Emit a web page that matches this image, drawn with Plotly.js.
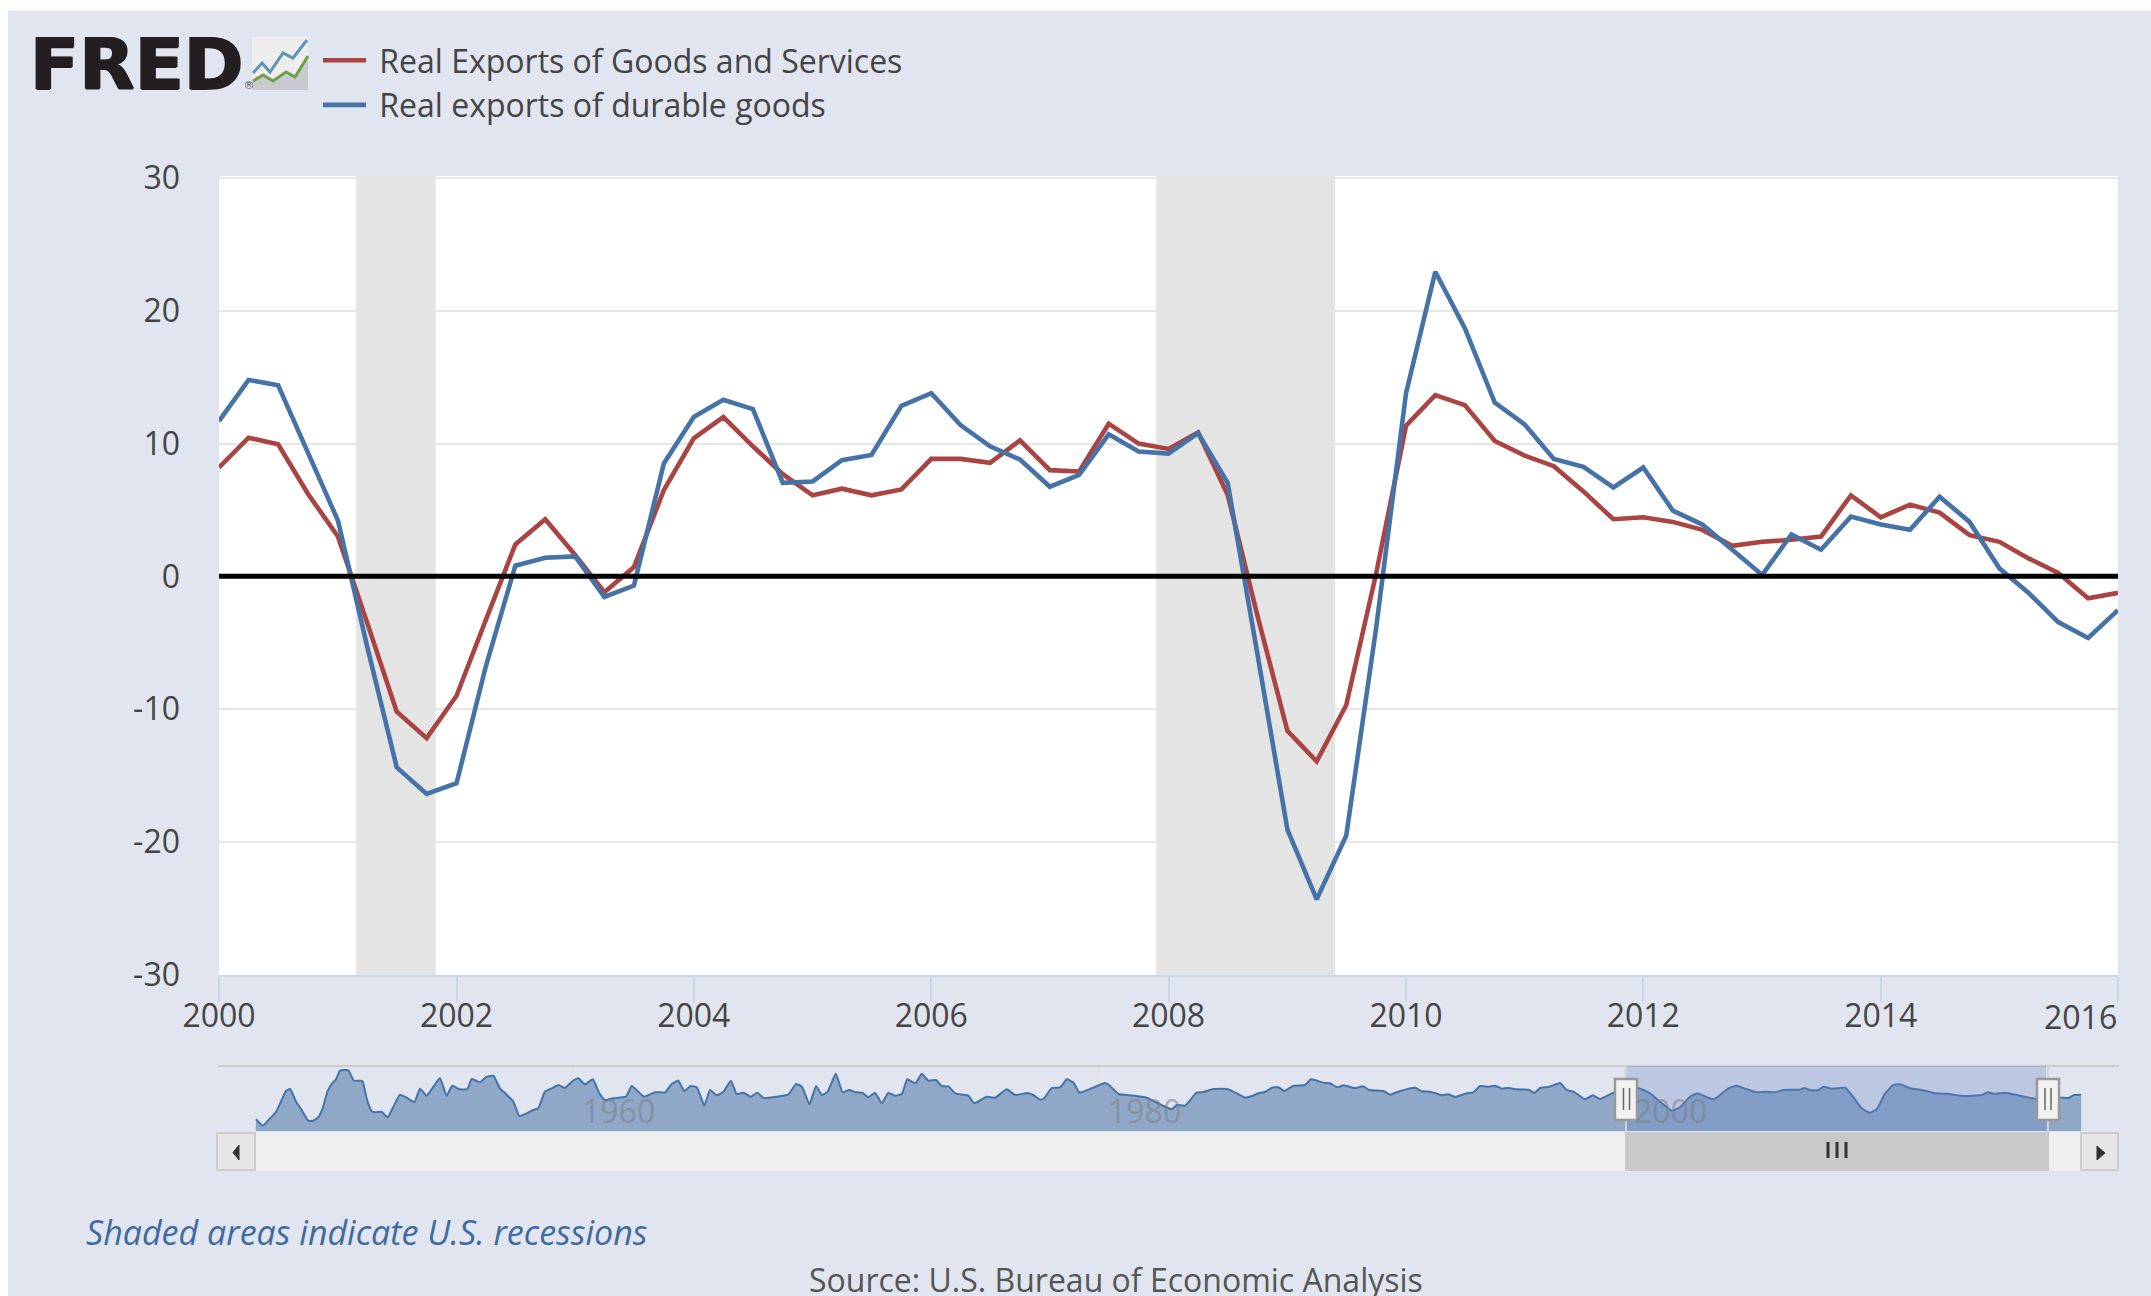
<!DOCTYPE html>
<html>
<head>
<meta charset="utf-8">
<script src="https://cdn.plot.ly/plotly-3.0.1.min.js"></script>
<style>
html,body{margin:0;padding:0;background:#fff;width:2151px;height:1296px;overflow:hidden}
#bg{position:absolute;left:8px;top:11px;right:0;bottom:0;background:#e1e5f0}
#chart{position:absolute;left:0;top:0;width:2151px;height:1296px}
</style>
</head>
<body>
<div id="bg"></div>
<div id="chart"></div>
<script>
const quarters = ["2000-01-01","2000-04-01","2000-07-01","2000-10-01","2001-01-01","2001-04-01","2001-07-01","2001-10-01","2002-01-01","2002-04-01","2002-07-01","2002-10-01","2003-01-01","2003-04-01","2003-07-01","2003-10-01","2004-01-01","2004-04-01","2004-07-01","2004-10-01","2005-01-01","2005-04-01","2005-07-01","2005-10-01","2006-01-01","2006-04-01","2006-07-01","2006-10-01","2007-01-01","2007-04-01","2007-07-01","2007-10-01","2008-01-01","2008-04-01","2008-07-01","2008-10-01","2009-01-01","2009-04-01","2009-07-01","2009-10-01","2010-01-01","2010-04-01","2010-07-01","2010-10-01","2011-01-01","2011-04-01","2011-07-01","2011-10-01","2012-01-01","2012-04-01","2012-07-01","2012-10-01","2013-01-01","2013-04-01","2013-07-01","2013-10-01","2014-01-01","2014-04-01","2014-07-01","2014-10-01","2015-01-01","2015-04-01","2015-07-01","2015-10-01","2016-01-01"];
const realExports = [8.2,10.45,9.95,6.2,3.0,-3.5,-10.2,-12.2,-9.0,-3.3,2.4,4.3,1.6,-1.2,0.7,6.5,10.4,12.0,9.8,7.7,6.1,6.6,6.1,6.55,8.85,8.85,8.55,10.25,8.0,7.9,11.5,10.0,9.6,10.85,6.15,-3.0,-11.65,-13.95,-9.7,0.2,11.35,13.65,12.9,10.2,9.1,8.3,6.4,4.3,4.45,4.1,3.5,2.3,2.6,2.75,3.0,6.1,4.45,5.4,4.8,3.1,2.6,1.35,0.25,-1.65,-1.25];
const durableExports = [11.7,14.8,14.4,9.3,4.2,-5.3,-14.4,-16.4,-15.6,-6.8,0.8,1.4,1.5,-1.55,-0.7,8.5,12.0,13.3,12.6,7.05,7.15,8.75,9.15,12.85,13.8,11.4,9.8,8.8,6.75,7.65,10.7,9.4,9.25,10.8,7.05,-5.9,-19.1,-24.35,-19.55,-3.9,13.8,22.95,18.7,13.1,11.45,8.85,8.25,6.7,8.2,4.95,3.9,2.0,0.1,3.15,2.0,4.5,3.9,3.5,6.0,4.1,0.6,-1.25,-3.45,-4.65,-2.55];
const recessions = [["2001-02-26","2001-10-29"],["2007-11-24","2009-05-28"]];
const yRange = [-30.05,30.17];
const yTicks = [-30,-20,-10,0,10,20,30];
const yTickLabels = ["-30","-20","-10","0","10","20","30"];
const xTicks = ["2000-01-01","2002-01-01","2004-01-01","2006-01-01","2008-01-01","2010-01-01","2012-01-01","2014-01-01","2016-01-01"];
const xTickLabels = ["2000","2002","2004","2006","2008","2010","2012","2014",""];
const navYears = [1947.98,1948.24,1948.49,1948.75,1948.96,1949.13,1949.28,1949.51,1949.72,1949.97,1950.16,1950.35,1950.52,1950.70,1950.86,1951.03,1951.18,1951.50,1951.71,1952.03,1952.19,1952.38,1952.51,1952.76,1952.99,1953.21,1953.46,1953.71,1954.01,1954.22,1954.47,1954.73,1954.98,1955.23,1955.45,1955.72,1956.02,1956.19,1956.50,1956.76,1957.01,1957.26,1957.49,1957.77,1958.00,1958.28,1958.53,1958.72,1958.97,1959.23,1959.48,1959.73,1959.99,1960.24,1960.49,1960.79,1961.04,1961.25,1961.57,1962.05,1962.27,1962.52,1962.75,1963.16,1963.54,1963.79,1964.04,1964.27,1964.51,1964.74,1964.87,1965.03,1965.25,1965.50,1965.76,1966.04,1966.26,1966.52,1966.80,1967.05,1967.28,1967.79,1968.23,1968.52,1968.74,1969.03,1969.28,1969.50,1969.72,1970.03,1970.29,1970.55,1970.79,1971.04,1971.27,1971.52,1971.78,1972.03,1972.28,1972.54,1972.75,1973.05,1973.30,1973.55,1973.84,1974.06,1974.31,1974.57,1975.07,1975.29,1975.77,1976.09,1976.53,1976.85,1977.32,1977.54,1977.80,1977.95,1978.24,1978.56,1978.81,1979.07,1979.29,1979.76,1980.27,1980.46,1980.78,1981.09,1981.85,1982.23,1982.80,1982.99,1983.31,1983.75,1984.01,1984.39,1984.90,1985.28,1985.59,1985.85,1986.10,1986.35,1986.61,1986.86,1987.08,1987.43,1987.87,1988.09,1988.57,1988.82,1989.10,1989.33,1989.78,1990.07,1990.32,1990.85,1991.11,1991.49,1992.06,1992.31,1992.63,1993.07,1993.32,1993.58,1994.02,1994.27,1994.53,1994.85,1995.10,1995.35,1995.61,1995.92,1996.37,1996.59,1996.81,1997.13,1997.57,1997.82,1998.08,1998.52,1998.81,1999.09,1999.60,2000.55,2000.99,2001.44,2001.82,2002.13,2002.51,2002.80,2003.15,2003.40,2003.65,2003.97,2004.29,2004.67,2005.05,2005.36,2005.74,2006.06,2006.69,2006.85,2007.10,2007.39,2007.58,2007.90,2008.41,2008.66,2009.04,2009.33,2009.61,2009.93,2010.24,2010.50,2010.88,2011.38,2011.83,2012.27,2012.90,2013.60,2013.83,2014.05,2014.49,2014.93,2015.69,2016.58,2016.90,2017.11,2017.38];
const navValues = [-21.3,-27.7,-21.3,-13.7,-2,7.3,9,-3.7,-12,-22.7,-22.7,-19.3,-10.3,6.3,14,18.7,27.3,27.7,17.3,17,-0.3,-13,-14.3,-13.7,-19.3,-8.7,3.3,0.3,-4,9.3,2.3,11.3,20,2.3,12.3,8.7,9,19,15.7,21.3,22.3,9.7,4,-3.7,-18,-15.3,-12,-10.3,6.3,9.7,13,10,16.3,19.7,13.7,18.7,4.7,-2,-0.3,1.3,12,6.3,1.3,5.7,5.7,14,17.3,7,12,10.7,3,-7.7,8,2.7,6.3,17.3,4,5.3,1.3,5.3,0,1.3,3.7,14,11.3,-6.3,12,3,6.3,24.3,5.7,8,5.7,5.3,0.7,5.3,-5.3,5.3,2.3,4,18.7,14.7,24.3,17.3,18,12,11.7,4.7,2.3,-5.3,1.3,0.3,8.7,3,5,3,-1.7,-0.3,10,10.7,18.7,15.3,5.3,9.7,15,12,4,3,0.3,-4.7,-11.3,-7,-7.7,5.3,6,9,9,4.7,0.3,2,4.7,6,10.3,10.7,7,12.3,13,18.7,15.3,14.7,10.7,12.7,9.7,11.7,8,7,3.3,7,10.3,6.7,6.3,2.7,3.7,1,4.7,5.7,12,11.3,12.3,9.3,10,8.7,8.3,5,10,11,15,8,6.3,-1.3,2.7,-1,5.3,9.7,4.7,-5.3,-12.7,-9.3,1.3,4.7,0.7,-1.3,3,9.7,12.3,8.7,5.7,6.3,5.7,8,8.3,10,7.7,8,11.3,9.3,10.3,3,-10.3,-14.7,-11.3,4.7,13,13.7,9.7,7.7,4.7,4.3,2,3,5.7,4.3,5.3,3,-1,0.3,0,3,3.3];
const navBaseline = [-33,-33];
const navRange = [-33,32];
const navYearTicks = [1960,1980,2000];
const navSelection = [2000.08,2016.05];

const W = 2151, H = 1296;
const fx = p => p / W, fy = p => 1 - p / H;
const FONT = '"Open Sans", sans-serif';
const CHROME = '#444';

function box(x0, y0, x1, y1, fill, lineColor, lineWidth) {
  return {type:'rect', xref:'paper', yref:'paper', x0:fx(x0), x1:fx(x1), y0:fy(y1), y1:fy(y0),
    fillcolor:fill, line:{color:lineColor||fill, width:lineWidth===undefined?0:lineWidth}, layer:'above'};
}
function poly(points, fill, lineColor, lineWidth, close) {
  const d = points.map((p,i)=>(i?'L':'M')+fx(p[0])+','+fy(p[1])).join(' ') + (close?' Z':'');
  return {type:'path', xref:'paper', yref:'paper', path:d, fillcolor:fill||'rgba(0,0,0,0)',
    line:{color:lineColor||'rgba(0,0,0,0)', width:lineWidth||0}, layer:'above'};
}

const shapes = [];
shapes.push({type:'rect', xref:'paper', yref:'paper', x0:fx(219), x1:fx(2118), y0:fy(975), y1:fy(176), fillcolor:'#fff', line:{width:0}, layer:'below'});
recessions.forEach(r => shapes.push({type:'rect', xref:'x', yref:'y', x0:r[0], x1:r[1], y0:yRange[0], y1:yRange[1],
  fillcolor:'#e4e4e4', line:{width:0}, layer:'between'}));
shapes.push({type:'line', xref:'paper', yref:'y', x0:fx(219), x1:fx(2118), y0:0, y1:0, line:{color:'#000', width:5}, layer:'above'});

// navigator chrome
shapes.push(box(218,1065,2119,1067,'#cbcbcb'));
shapes.push({type:'rect', xref:'x2', yref:'y2', x0:navSelection[0], x1:navSelection[1], y0:navRange[0], y1:navRange[1],
  fillcolor:'rgba(102,133,194,0.3)', line:{width:0}, layer:'above'});
shapes.push(box(1625,1066,1627,1132,'#cfd3dc'));
shapes.push(box(2047,1066,2049,1132,'#cfd3dc'));
// scrollbar
shapes.push(box(256,1132,2080,1171,'#efefef'));
shapes.push(box(1625,1132,2049,1171,'#c8c8c8'));
shapes.push(box(217,1133,255,1170,'#e6e6e6','#cccccc',2));
shapes.push(box(2081,1133,2118,1170,'#e6e6e6','#cccccc',2));
shapes.push(poly([[239,1145],[233,1152.5],[239,1160]],'#333','#333',1,true));
shapes.push(poly([[2097,1146],[2105,1153],[2097,1160]],'#333','#333',1,true));
[1828,1837,1846].forEach(x => shapes.push(poly([[x,1142],[x,1158]],null,'#333',3)));
// handles
[[1615,1637,1623.5,1629.5],[2037,2059,2045,2051]].forEach(h => {
  shapes.push(box(h[0],1079,h[1],1120,'#f2f2f2','#999999',2.5));
  shapes.push(poly([[h[2],1088],[h[2],1110]],null,'#666',1.5));
  shapes.push(poly([[h[3],1088],[h[3],1110]],null,'#666',1.5));
});
// logo icon
shapes.push({type:'rect', xref:'paper', yref:'paper', x0:fx(252), x1:fx(308), y0:fy(90), y1:fy(37),
  fillcolor:'#eeeeef', line:{width:0}, layer:'above'});
shapes.push(poly([[252,81],[263,75],[273,81],[286,72],[295,77],[308,55],[308,90],[252,90]],'#c9cad0',null,0,true));
shapes.push(poly([[253,73],[262,63],[270,72],[283,53],[293,58],[307,40]],null,'#5c95b8',3));
shapes.push(poly([[253,81],[263,75],[273,81],[286,72],[295,77],[308,56]],null,'#6da044',3));

const annFont = (size, color, extra) => Object.assign({family:FONT, size:size, color:color}, extra||{});
const note = (x, y, text, font, anchor) => ({xref:'paper', yref:'paper', x:fx(x), y:fy(y), text:text, showarrow:false,
  xanchor:anchor||'left', yanchor:'middle', font:font, borderpad:0});
const annotations = [
  note(29,64,'<b>FRED</b><span style="font-size:11px;font-weight:normal;text-shadow:none;fill:#555">®</span>',{family:'"DejaVu Sans"',size:72,color:'#231f20',shadow:'1px 0 0 #231f20, -1px 0 0 #231f20, 0 1px 0 #231f20'}),
  note(85,1232,'<i>Shaded areas indicate U.S. recessions</i>',annFont(34,'#3f6a9f')),
  note(1116,1279,'Source: U.S. Bureau of Economic Analysis',annFont(32,'#555'),'center'),
  {xref:'x', yref:'paper', x:xTicks[xTicks.length-1], y:fy(1016), text:'2016', showarrow:false, xanchor:'right', yanchor:'middle',
   font:annFont(32,CHROME), borderpad:0}
];
navYearTicks.forEach(y => annotations.push({xref:'x2', yref:'y2', x:y, y:-12, text:String(y), showarrow:false,
  xanchor:'left', yanchor:'middle', xshift:9, font:annFont(32,'rgba(125,125,125,0.55)'), borderpad:0}));

const traces = [
  {type:'scatter', mode:'lines', name:'\u00a0Real Exports of Goods and Services', x:quarters, y:realExports, xaxis:'x', yaxis:'y',
   line:{color:'#a94442', width:4.6, simplify:false}, legendgroup:'a', hoverinfo:'x+y'},
  {type:'scatter', mode:'lines', name:'\u00a0Real exports of durable goods', x:quarters, y:durableExports, xaxis:'x', yaxis:'y',
   line:{color:'#4572a7', width:4.6, simplify:false}, legendgroup:'b', hoverinfo:'x+y'},
  {type:'scatter', mode:'lines', x:[navYears[0],navYears[navYears.length-1]], y:navBaseline, xaxis:'x2', yaxis:'y2',
   line:{width:0}, showlegend:false, hoverinfo:'skip'},
  {type:'scatter', mode:'lines', x:navYears, y:navValues, xaxis:'x2', yaxis:'y2', fill:'tonexty', fillcolor:'#8fa8c8',
   line:{color:'#4572a7', width:2, shape:'spline', smoothing:0.4}, showlegend:false, hoverinfo:'skip'}
];

const layout = {
  width:W, height:H, margin:{l:0,r:0,t:0,b:0}, autosize:false,
  paper_bgcolor:'rgba(0,0,0,0)', plot_bgcolor:'rgba(0,0,0,0)',
  font:{family:FONT, color:CHROME},
  showlegend:true,
  legend:{x:fx(318), y:fy(33), xanchor:'left', yanchor:'top', bgcolor:'rgba(0,0,0,0)', borderwidth:0,
    itemwidth:43, tracegroupgap:5, traceorder:'normal', font:{family:FONT, size:32, color:'#444'}},
  xaxis:{type:'date', domain:[fx(219),fx(2118)], range:['2000-01-01','2016-01-01'], anchor:'y',
    tickmode:'array', tickvals:xTicks, ticktext:xTickLabels, ticks:'outside', ticklen:25, tickwidth:2, tickcolor:'#ccd6eb',
    ticklabelstandoff:-13,
    showgrid:false, showline:true, linecolor:'#ccd6eb', linewidth:2, zeroline:false,
    tickfont:{family:FONT,size:32,color:CHROME}, automargin:false},
  yaxis:{domain:[fy(975),fy(176)], range:yRange, anchor:'x',
    tickmode:'array', tickvals:yTicks, ticktext:yTickLabels, ticks:'', showgrid:true, gridcolor:'#e6e6e6', gridwidth:2,
    zeroline:false, showline:false, ticklabelstandoff:38, tickfont:{family:FONT,size:32,color:CHROME}, automargin:false},
  xaxis2:{domain:[fx(218),fx(2119)], range:[1946.54,2018.82], anchor:'y2', tickmode:'array', tickvals:navYearTicks,
    showticklabels:false, ticks:'', showgrid:true, gridcolor:'rgba(215,215,215,0.5)', gridwidth:1, zeroline:false, showline:false, automargin:false},
  yaxis2:{domain:[fy(1131),fy(1066)], range:navRange, anchor:'x2', showticklabels:false, ticks:'', showgrid:false, zeroline:false, showline:false, automargin:false},
  shapes:shapes, annotations:annotations
};

Plotly.newPlot('chart', traces, layout, {displayModeBar:false, responsive:false});
</script>
</body>
</html>
